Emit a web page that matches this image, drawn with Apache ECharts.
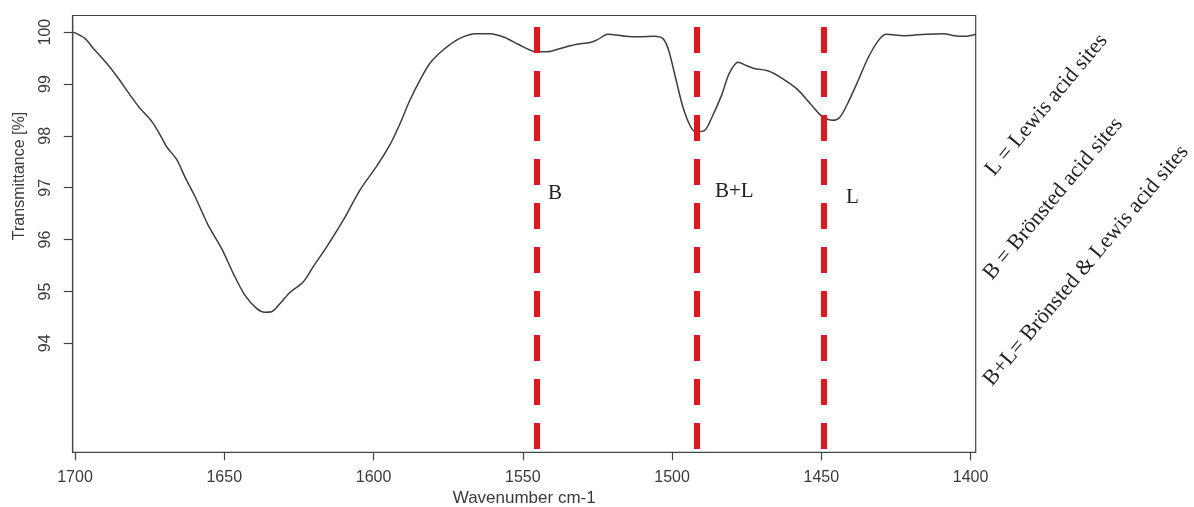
<!DOCTYPE html>
<html>
<head>
<meta charset="utf-8">
<script src="https://cdn.jsdelivr.net/npm/echarts@6/dist/echarts.min.js"></script>
<style>
  html, body { margin: 0; padding: 0; background: #fff; }
  #chart { width: 1194px; height: 507px; }
</style>
</head>
<body>
<div id="chart"></div>
<script>
// spectrum (wavenumber cm-1, transmittance %)
const wavenumber = [1700.6,1696.7,1693.9,1689.4,1685.5,1681.6,1678.2,1674.3,1671.5,1669.3,1665.9,1663.2,1659.8,1655.4,1650.9,1647.0,1643.1,1639.1,1636.4,1634.1,1631.3,1628.0,1623.5,1620.2,1615.7,1610.1,1604.5,1599.0,1594.5,1591.1,1587.8,1584.4,1581.1,1576.6,1571.1,1565.8,1561.0,1556.2,1551.4,1545.5,1541.9,1537.1,1532.3,1527.5,1525.1,1521.5,1515.6,1510.8,1506.0,1503.0,1501.2,1498.8,1496.4,1494.0,1492.2,1489.2,1486.8,1483.3,1480.9,1477.9,1474.9,1472.5,1467.7,1462.9,1458.1,1453.4,1449.8,1446.2,1443.8,1441.4,1437.8,1434.2,1430.6,1428.2,1422.2,1415.0,1409.0,1405.4,1401.8,1398.3]
const transmittance = [100.0,99.88,99.69,99.40,99.11,98.79,98.53,98.28,98.02,97.79,97.54,97.21,96.83,96.28,95.83,95.35,94.93,94.67,94.60,94.61,94.77,94.98,95.19,95.48,95.86,96.38,96.96,97.41,97.83,98.24,98.69,99.08,99.40,99.66,99.88,99.97,99.97,99.90,99.76,99.62,99.62,99.69,99.76,99.80,99.85,99.96,99.92,99.91,99.92,99.87,99.66,99.11,98.56,98.2,98.08,98.1,98.34,98.8,99.2,99.42,99.35,99.3,99.25,99.1,98.9,98.6,98.38,98.3,98.36,98.6,99.05,99.52,99.86,99.96,99.93,99.96,99.97,99.93,99.92,99.96]

// acid-site bands
const siteWavenumber = [1545.4, 1491.7, 1449.3]
const siteNames = ['B', 'B+L', 'L']

const xTicks = [1700, 1650, 1600, 1550, 1500, 1450, 1400]
const yTicks = [94, 95, 96, 97, 98, 99, 100]

const legendLines = [
  'L = Lewis acid sites',
  'B = Brönsted acid sites',
  'B+L= Brönsted & Lewis acid sites'
]

const chart = echarts.init(document.getElementById('chart'))

const axisFont = {color: '#3a3a3a', fontSize: 16, fontFamily: 'Liberation Sans'}
const serif = '21px "Liberation Serif"'
const tilt = 50 * Math.PI / 180

const option = {
  animation: false,
  grid: {
    left: 72.7, right: 218.3, top: 15.5, bottom: 54.7,
    outerBoundsMode: 'none',
    containLabel: false,
    show: true, borderColor: '#444', borderWidth: 1.2
  },
  xAxis: {
    type: 'value',
    inverse: true,
    min: 1398.3,
    max: 1700.77,
    name: 'Wavenumber cm-1',
    nameLocation: 'middle',
    nameGap: 38,
    nameTextStyle: {color: '#3a3a3a', fontSize: 17, fontFamily: 'Liberation Sans'},
    splitLine: {show: false},
    axisLine: {show: true, lineStyle: {color: '#444', width: 1.2}},
    axisTick: {show: true, length: 8, customValues: xTicks, lineStyle: {color: '#444', width: 1.2}},
    axisLabel: {customValues: xTicks, margin: 17, formatter: v => String(v), ...axisFont}
  },
  yAxis: {
    type: 'value',
    min: 91.9,
    max: 100.32,
    splitLine: {show: false},
    axisLine: {show: true, lineStyle: {color: '#444', width: 1.2}},
    axisTick: {show: true, length: 9, customValues: yTicks, lineStyle: {color: '#444', width: 1.2}},
    axisLabel: {customValues: yTicks, rotate: 90, margin: 19, ...axisFont}
  },
  series: [{
    type: 'line',
    data: wavenumber.map((w, i) => [w, transmittance[i]]),
    showSymbol: false,
    smooth: 0.3,
    lineStyle: {color: '#3d3d3d', width: 1.5},
    markLine: {
      silent: true,
      symbol: 'none',
      label: {show: false},
      lineStyle: {color: '#e4161b', width: 6, type: [26, 18], opacity: 1},
      data: siteWavenumber.map(w => [{coord: [w, 100.1]}, {coord: [w, 91.96]}])
    }
  }],
  graphic: [
    {type: 'text', x: 20, y: 176, rotation: Math.PI / 2,
     style: {text: 'Transmittance [%]', textAlign: 'center', textVerticalAlign: 'middle',
             font: '16px "Liberation Sans"', fill: '#3a3a3a'}},
    {type: 'text', x: 548, y: 193,
     style: {text: siteNames[0], textAlign: 'left', textVerticalAlign: 'middle', font: serif, fill: '#222'}},
    {type: 'text', x: 715, y: 191,
     style: {text: siteNames[1], textAlign: 'left', textVerticalAlign: 'middle', font: serif, fill: '#222'}},
    {type: 'text', x: 846, y: 197,
     style: {text: siteNames[2], textAlign: 'left', textVerticalAlign: 'middle', font: serif, fill: '#222'}},
    {type: 'text', x: 998, y: 180, rotation: tilt,
     style: {text: legendLines[0], textAlign: 'left', textVerticalAlign: 'bottom', font: '22px "Liberation Serif"', fill: '#222'}},
    {type: 'text', x: 996, y: 284, rotation: tilt,
     style: {text: legendLines[1], textAlign: 'left', textVerticalAlign: 'bottom', font: '22px "Liberation Serif"', fill: '#222'}},
    {type: 'text', x: 996, y: 390, rotation: tilt,
     style: {text: legendLines[2], textAlign: 'left', textVerticalAlign: 'bottom', font: '22px "Liberation Serif"', fill: '#222'}}
  ]
}

chart.setOption(option)
window.addEventListener('resize', function () {
  chart.resize()
})
</script>
</body>
</html>
